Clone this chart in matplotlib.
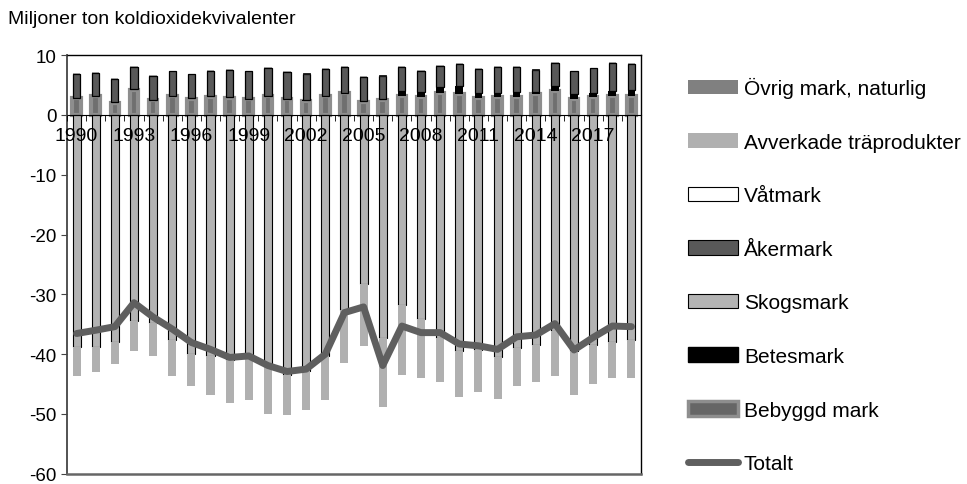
import numpy as np
import matplotlib
matplotlib.use("Agg")
import matplotlib.pyplot as plt
from matplotlib.patches import Patch
from matplotlib.lines import Line2D

plt.rcParams['font.family'] = ['Liberation Sans', 'DejaVu Sans']
plt.rcParams['axes.unicode_minus'] = False

years = list(range(1990, 2020))

# Miljoner ton CO2-ekv
bebyggd = [2.75, 3.1, 2.0, 4.2, 2.4, 3.1, 2.65, 3.0, 2.85, 2.6,
           3.1, 2.6, 2.3, 3.1, 3.6, 2.2, 2.4, 3.2, 2.9, 3.7,
           3.5, 2.85, 3.0, 3.0, 3.5, 4.0, 2.65, 3.0, 3.1, 3.1]
betesmark = [0.1, 0.1, 0.1, 0.1, 0.1, 0.1, 0.1, 0.1, 0.1, 0.1,
             0.1, 0.1, 0.1, 0.1, 0.1, 0.1, 0.2, 0.75, 0.95, 0.9,
             1.25, 0.85, 0.7, 0.9, 0.4, 0.75, 0.85, 0.7, 0.95, 1.05]
akermark = [4.0, 3.8, 3.85, 3.7, 4.0, 4.05, 4.0, 4.2, 4.5, 4.55,
            4.65, 4.4, 4.5, 4.45, 4.25, 4.0, 3.95, 4.0, 3.5, 3.55,
            3.7, 3.9, 4.3, 4.05, 3.65, 3.85, 3.75, 4.05, 4.55, 4.3]
vatmark = [0.05] * 30
ovrig = [0.1, 0.1, 0.1, 0.1, 0.1, 0.1, 0.1, 0.1, 0.1, 0.1,
         0.1, 0.1, 0.1, 0.1, 0.1, 0.1, 0.1, 0.1, 0.1, 0.1,
         0.1, 0.1, 0.1, 0.1, 0.1, 0.1, 0.1, 0.1, 0.15, 0.1]
skogsmark = [-38.8, -38.8, -38.05, -34.4, -34.8, -37.55, -40.0, -40.3, -41.0, -40.8,
             -42.2, -43.5, -42.8, -40.3, -32.6, -28.3, -37.3, -31.8, -34.2, -37.3,
             -39.55, -39.3, -40.55, -39.0, -38.5, -36.1, -39.5, -38.4, -38.05, -37.6]
avverkade = [-4.8, -4.25, -3.65, -5.15, -5.5, -6.15, -5.4, -6.6, -7.2, -6.9,
             -7.8, -6.6, -6.6, -7.4, -8.8, -10.4, -11.5, -11.6, -9.8, -7.4,
             -7.65, -7.1, -6.95, -6.3, -6.2, -7.5, -7.3, -6.6, -6.0, -6.4]
totalt = [-36.55, -36.0, -35.4, -31.4, -33.8, -35.8, -38.05, -39.2, -40.55, -40.3,
          -41.9, -42.9, -42.5, -40.0, -33.05, -32.1, -41.9, -35.3, -36.4, -36.4,
          -38.3, -38.6, -39.2, -37.1, -36.8, -34.9, -39.3, -37.2, -35.3, -35.4]

x = np.arange(len(years))

fig = plt.figure(figsize=(9.67, 4.85), dpi=100)
ax = fig.add_axes([0.0693, 0.021, 0.5936, 0.8635])

# positiva staplar
b1 = np.array(bebyggd)
ax.bar(x, bebyggd, 0.45, color='#6f6f6f', edgecolor='#8e8e8e', linewidth=3, zorder=2)
ax.bar(x, betesmark, 0.4, bottom=b1, color='black', zorder=2)
b2 = b1 + np.array(betesmark)
ax.bar(x, akermark, 0.38, bottom=b2, color='#595959', edgecolor='black', linewidth=0.9, zorder=2)
b3 = b2 + np.array(akermark)
ax.bar(x, vatmark, 0.38, bottom=b3, color='white', edgecolor='black', linewidth=0.6, zorder=2)
b4 = b3 + np.array(vatmark)
ax.bar(x, ovrig, 0.38, bottom=b4, color='#9a9a9a', zorder=2)

# negativa staplar
ax.bar(x, skogsmark, 0.42, color='#b3b3b3', edgecolor='black', linewidth=0.8, zorder=2)
ax.bar(x, avverkade, 0.42, bottom=skogsmark, color='#b0b0b0', zorder=2)

ax.plot(x, totalt, color='#5f5f5f', lw=5, solid_capstyle='round', solid_joinstyle='round', zorder=3)

ax.set_axisbelow(False)
ax.set_xlim(-0.5, len(years) - 0.5)
ax.set_ylim(-60, 10)
ax.set_yticks(range(-60, 11, 10))
ax.tick_params(axis='y', labelsize=13.5, length=4, direction='out', color='#444444')

ax.set_xticks(x[::3])
ax.set_xticklabels([str(y) for y in years[::3]])
ax.set_xticks(np.arange(-0.5, len(years)), minor=True)
ax.tick_params(axis='x', which='major', length=0, labelsize=14, pad=9)
ax.tick_params(axis='x', which='minor', length=4, direction='out', color='black')

ax.spines['bottom'].set_position(('data', 0))
ax.spines['left'].set_color('#444444')
ax.spines['left'].set_linewidth(1.3)
ax.spines['top'].set_linewidth(1.0)
ax.spines['right'].set_linewidth(1.0)
ax.axhline(-60, color='#666666', lw=1.8, clip_on=False, zorder=5)

fig.text(0.008, 0.959, 'Miljoner ton koldioxidekvivalenter', fontsize=14, va='center', ha='left')

handles = [
    Patch(facecolor='#808080', edgecolor='none'),
    Patch(facecolor='#b0b0b0', edgecolor='none'),
    Patch(facecolor='white', edgecolor='black', linewidth=0.8),
    Patch(facecolor='#595959', edgecolor='black', linewidth=0.8),
    Patch(facecolor='#b3b3b3', edgecolor='black', linewidth=0.8),
    Patch(facecolor='black', edgecolor='black'),
    Patch(facecolor='#666666', edgecolor='#8e8e8e', linewidth=2.5),
    Line2D([], [], color='#5f5f5f', lw=5, solid_capstyle='round'),
]
labels = ['Övrig mark, naturlig', 'Avverkade träprodukter', 'Våtmark', 'Åkermark',
          'Skogsmark', 'Betesmark', 'Bebyggd mark', 'Totalt']
fig.legend(handles, labels, loc='upper left', bbox_to_anchor=(0.711, 0.839),
           frameon=False, fontsize=15, handlelength=2.4, handleheight=0.7,
           handletextpad=0.3, labelspacing=1.66, borderpad=0, borderaxespad=0)

fig.savefig('out.png', dpi=100)
